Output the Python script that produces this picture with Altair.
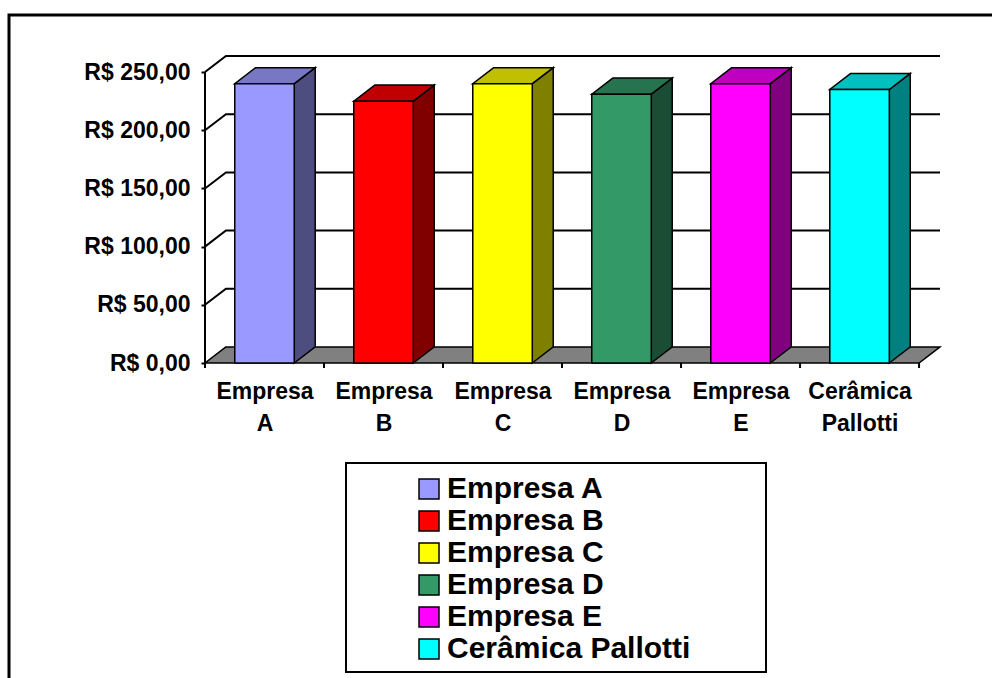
import json
import altair as alt
import pandas as pd

# ---- data ----
CATEGORIES = ["Empresa A", "Empresa B", "Empresa C", "Empresa D", "Empresa E", "Cerâmica Pallotti"]
VALUES = [240.0, 225.0, 240.0, 231.0, 240.0, 235.0]
FRONT_COLORS = ["#9999FF", "#FF0000", "#FFFF00", "#339966", "#FF00FF", "#00FFFF"]
TOP_COLORS = ["#7777C4", "#C00000", "#C0C000", "#267350", "#C000C0", "#00C0C0"]
SIDE_COLORS = ["#4D4D80", "#800000", "#808000", "#1A4D33", "#800080", "#008080"]
Y_TICKS = [0, 50, 100, 150, 200, 250]
X_LABEL_LINES = [c.split(" ") for c in CATEGORIES]

# ---- 3D look (style constants) ----
DEPTH_X = 0.176   # in category units
DEPTH_Y = 13.8    # in value units
HALF = 0.25       # half bar width in category units
FONT = "Liberation Sans"
N = len(CATEGORIES)
YMAX = max(Y_TICKS)

xscale = alt.Scale(domain=[0, N + DEPTH_X], nice=False, zero=False)
yscale = alt.Scale(domain=[0, YMAX + DEPTH_Y], nice=False, zero=False)

x_label_expr = json.dumps(X_LABEL_LINES, ensure_ascii=False) + "[floor(datum.value)]"
y_label_expr = "'R$ ' + format(datum.value, '.0f') + ',00'"

AX = alt.Axis(
    values=[i + 0.5 for i in range(N)], labelExpr=x_label_expr, ticks=False, domain=False,
    grid=False, title=None, labelPadding=17, labelLineHeight=32, labelBaseline="top",
    labelAlign="center",
)
AY = alt.Axis(
    values=Y_TICKS, labelExpr=y_label_expr, domain=False, grid=False, title=None,
    ticks=True, tickSize=4, labelPadding=11,
)

# front faces
front = pd.DataFrame({
    "cat": CATEGORIES,
    "x1": [i + 0.5 - HALF for i in range(N)],
    "x2": [i + 0.5 + HALF for i in range(N)],
    "v": VALUES,
    "v0": [0.0] * N,
})

# side faces
side_rows = []
for i, (c, v, col) in enumerate(zip(CATEGORIES, VALUES, SIDE_COLORS)):
    side_rows.append({"cat": c, "x": i + 0.5 + HALF, "y": 0.0, "y2": v, "col": col})
    side_rows.append({"cat": c, "x": i + 0.5 + HALF + DEPTH_X, "y": DEPTH_Y, "y2": v + DEPTH_Y, "col": col})
side = pd.DataFrame(side_rows)

# top faces
top_rows = []
for i, (c, v, col) in enumerate(zip(CATEGORIES, VALUES, TOP_COLORS)):
    top_rows.append({"cat": c, "y": v, "x": i + 0.5 - HALF, "x2": i + 0.5 + HALF, "col": col})
    top_rows.append({"cat": c, "y": v + DEPTH_Y, "x": i + 0.5 - HALF + DEPTH_X, "x2": i + 0.5 + HALF + DEPTH_X, "col": col})
top = pd.DataFrame(top_rows)

# floor
floor = pd.DataFrame({"y": [0.0, DEPTH_Y], "x": [0.0, DEPTH_X], "x2": [float(N), N + DEPTH_X]})

# gridlines on side wall + back wall
grid_rows = []
for L in Y_TICKS[1:]:
    grid_rows.append({"lvl": L, "o": 0, "x": 0.0, "y": L})
    grid_rows.append({"lvl": L, "o": 1, "x": DEPTH_X, "y": L + DEPTH_Y})
    grid_rows.append({"lvl": L, "o": 2, "x": N + DEPTH_X, "y": L + DEPTH_Y})
grid = pd.DataFrame(grid_rows)

one = pd.DataFrame({"a": [0]})
xticks = pd.DataFrame({"x": [float(i) for i in range(N + 1)]})
yaxis_line = pd.DataFrame({"x": [0.0], "y": [0.0], "y2": [float(YMAX)]})

border = alt.Chart(one).mark_rect(filled=False, stroke="black", strokeWidth=3).encode(
    x=alt.value(-196), x2=alt.value(820), y=alt.value(-41), y2=alt.value(660)
)

floor_layer = alt.Chart(floor).mark_area(
    orient="horizontal", color="#808080", stroke="black", strokeWidth=1.5
).encode(
    y=alt.Y("y:Q", scale=yscale, axis=AY),
    x=alt.X("x:Q", scale=xscale, axis=AX),
    x2="x2:Q",
)

grid_layer = alt.Chart(grid).mark_line(color="black", strokeWidth=2).encode(
    x=alt.X("x:Q", scale=xscale, axis=AX),
    y=alt.Y("y:Q", scale=yscale, axis=AY),
    detail="lvl:N",
    order="o:Q",
)

side_layer = alt.Chart(side).mark_area(orient="vertical", stroke="black", strokeWidth=1.5, fillOpacity=1).encode(
    x=alt.X("x:Q", scale=xscale, axis=AX),
    y=alt.Y("y:Q", scale=yscale, axis=AY),
    y2="y2:Q",
    detail="cat:N",
    fill=alt.Fill("col:N", scale=None),
)

top_layer = alt.Chart(top).mark_area(orient="horizontal", stroke="black", strokeWidth=1.5, fillOpacity=1).encode(
    y=alt.Y("y:Q", scale=yscale, axis=AY),
    x=alt.X("x:Q", scale=xscale, axis=AX),
    x2="x2:Q",
    detail="cat:N",
    fill=alt.Fill("col:N", scale=None),
)

front_layer = alt.Chart(front).mark_rect(stroke="black", strokeWidth=1.5, opacity=1).encode(
    x=alt.X("x1:Q", scale=xscale, axis=AX),
    x2="x2:Q",
    y=alt.Y("v:Q", scale=yscale, axis=AY),
    y2="v0:Q",
    color=alt.Color(
        "cat:N", sort=CATEGORIES,
        scale=alt.Scale(domain=CATEGORIES, range=FRONT_COLORS),
        legend=alt.Legend(
            orient="none", legendX=209, legendY=418, title=None, symbolType="square",
            symbolSize=400, symbolStrokeColor="black", symbolStrokeWidth=1.5, symbolOpacity=1,
            labelFontSize=30, labelFont=FONT, labelFontWeight="bold", labelColor="black",
            labelOffset=3, rowPadding=2, padding=0, labelLimit=600,
        ),
    ),
)

yaxis_rule = alt.Chart(yaxis_line).mark_rule(color="black", strokeWidth=2).encode(
    x=alt.X("x:Q", scale=xscale, axis=AX),
    y=alt.Y("y:Q", scale=yscale, axis=AY),
    y2="y2:Q",
)

xtick_layer = alt.Chart(xticks).mark_rule(color="black", strokeWidth=2).encode(
    x=alt.X("x:Q", scale=xscale, axis=AX),
    y=alt.value(307), y2=alt.value(312),
)

legend_box = alt.Chart(one).mark_rect(filled=False, stroke="black", strokeWidth=2).encode(
    x=alt.value(141), x2=alt.value(561), y=alt.value(407), y2=alt.value(616)
)

chart = alt.layer(
    border, floor_layer, grid_layer, side_layer, top_layer, front_layer, yaxis_rule, xtick_layer, legend_box
).properties(
    width=735, height=307,
    autosize=alt.AutoSizeParams(type="none"),
    padding={"left": 205, "top": 56, "right": 52, "bottom": 315},
    background="white",
).configure_view(stroke=None).configure_axis(
    labelFont=FONT, labelFontWeight="bold", labelFontSize=23, labelColor="black",
    tickColor="black", tickWidth=2,
)

chart.save("out.html", embed_options={"renderer": "svg", "actions": False})
